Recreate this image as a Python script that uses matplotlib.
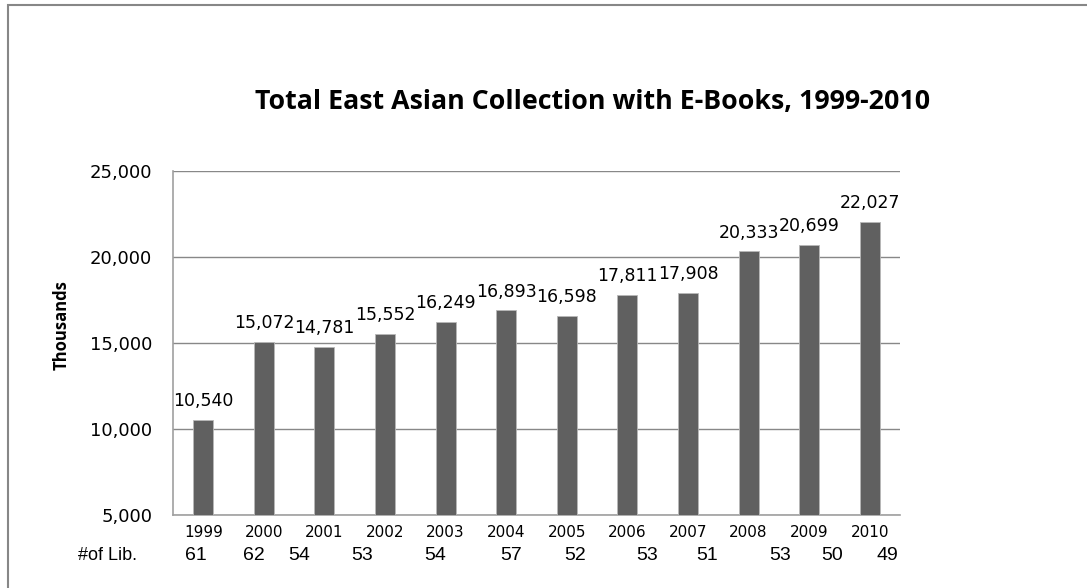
import matplotlib
matplotlib.use("Agg")
import matplotlib.pyplot as plt
from matplotlib.patches import Rectangle
from matplotlib.ticker import FuncFormatter

# data
years = ["1999", "2000", "2001", "2002", "2003", "2004",
         "2005", "2006", "2007", "2008", "2009", "2010"]
totals = [10540, 15072, 14781, 15552, 16249, 16893,
          16598, 17811, 17908, 20333, 20699, 22027]
num_libs = [61, 62, 54, 53, 54, 57, 52, 53, 51, 53, 50, 49]

# x positions (figure pixels) of the "#of Lib." counts, as laid out in the original
lib_x_px = [196, 254, 299, 362, 435, 511, 575, 647, 707, 780, 832, 887]

W, H = 1087, 588
fig = plt.figure(figsize=(W / 100, H / 100), dpi=100)
fig.patch.set_facecolor("white")

# outer chart border (top and left visible)
fig.patches.append(Rectangle((8 / W, -0.05), 1.2, (H - 5) / H + 0.05,
                             transform=fig.transFigure, fill=False,
                             edgecolor="#878787", linewidth=1.5))

ax = fig.add_axes([173 / W, (H - 515) / H, (900 - 173) / W, (515 - 171) / H])

x = range(len(years))
ax.bar(x, totals, width=0.33, color="#606060", edgecolor="#b8b8b8",
       linewidth=0.6, zorder=3)

for i, v in enumerate(totals):
    ax.text(i, v + 800, f"{v:,}", ha="center", va="baseline",
            fontsize=12.5, family="DejaVu Sans", color="black")

ax.set_xlim(-0.5, len(years) - 0.5)
ax.set_ylim(5000, 25000)
ax.set_yticks([5000, 10000, 15000, 20000, 25000])
ax.yaxis.set_major_formatter(FuncFormatter(lambda v, p: f"{int(v):,}"))
ax.tick_params(axis="y", labelsize=13, length=0, pad=15)
ax.set_xticks([])

ax.grid(axis="y", color="#888888", linewidth=1.0, zorder=0)
for side in ["top", "right"]:
    ax.spines[side].set_visible(False)
ax.spines["left"].set_color("#a0a0a0")
ax.spines["bottom"].set_color("#a0a0a0")
ax.spines["left"].set_linewidth(1.2)
ax.spines["bottom"].set_linewidth(1.2)

# y axis title
fig.text(62 / W, 1 - 325 / H, "Thousands", rotation=90, ha="center", va="center",
         fontsize=12, fontweight="bold", family="Open Sans")

# year labels under the bars
for i, y in enumerate(years):
    ax.text(i, -0.05, y, transform=ax.get_xaxis_transform(), ha="center",
            va="center", fontsize=11, family="DejaVu Sans")

# number of libraries row
fig.text(78 / W, 1 - 556 / H, "#of Lib.", fontsize=13, ha="left", va="center",
         family="Liberation Sans")
for px, n in zip(lib_x_px, num_libs):
    fig.text(px / W, 1 - 556 / H, str(n), fontsize=14, ha="center", va="center",
             family="Liberation Sans")

fig.text(593 / W, 1 - 102 / H, "Total East Asian Collection with E-Books, 1999-2010",
         ha="center", va="center", fontsize=19.3, fontweight="bold", family="Open Sans")

fig.savefig("out.png", dpi=100)
